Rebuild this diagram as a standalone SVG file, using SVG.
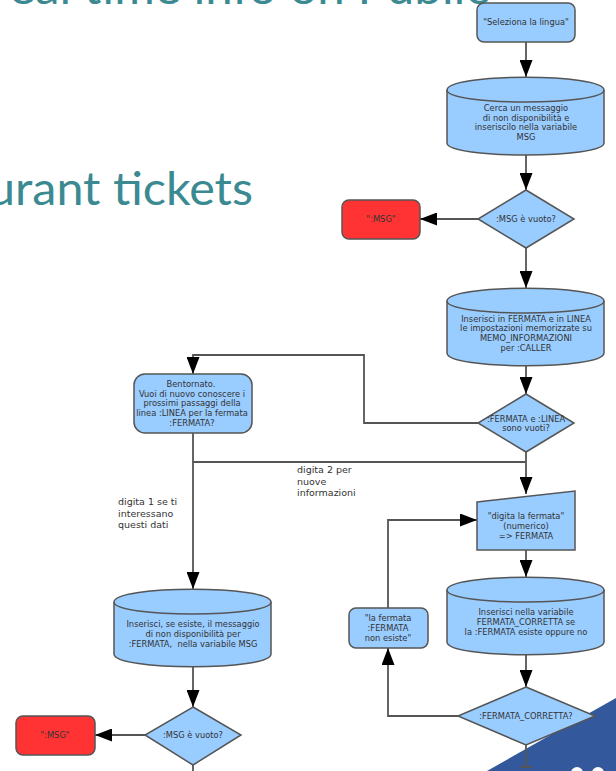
<svg xmlns="http://www.w3.org/2000/svg" width="616" height="771" viewBox="0 0 616 771">
<style>
.n{fill:#99ccff;stroke:#555;stroke-width:1.5}
.r{fill:#ff3333;stroke:#555;stroke-width:1.5}
.c{fill:none;stroke:#555;stroke-width:1.8}
.t{font-family:"DejaVu Sans",sans-serif;font-size:8.3px;fill:#333;text-anchor:middle}
.l{font-family:"DejaVu Sans",sans-serif;font-size:9.5px;fill:#333}
.h{font-family:"Lato",sans-serif;font-size:46px;fill:#3b8a92}
</style>
<defs>
<marker id="a" markerUnits="userSpaceOnUse" markerWidth="17" markerHeight="13" refX="17" refY="6.5" viewBox="0 0 17 13" orient="auto"><path d="M0 0L17 6.5L0 13Z" fill="#000"/></marker>
</defs>
<g id="bg">
<text class="h" x="9" y="4" textLength="480" lengthAdjust="spacingAndGlyphs">eal time info on Public</text>
<text class="h" x="-12" y="205" textLength="265" lengthAdjust="spacingAndGlyphs">urant tickets</text>
<path d="M616 698L487 771H616Z" fill="#33589b"/>
<ellipse cx="577" cy="773" rx="6" ry="6" fill="#fff"/>
<ellipse cx="598" cy="773" rx="6" ry="6" fill="#fff"/>
</g>
<g id="connectors" class="c">
<path d="M526 42V77" marker-end="url(#a)"/>
<path d="M526 155V190" marker-end="url(#a)"/>
<path d="M478 219H420" marker-end="url(#a)"/>
<path d="M526 248V288" marker-end="url(#a)"/>
<path d="M526 366V394" marker-end="url(#a)"/>
<path d="M478 423H364V355H193V374" marker-end="url(#a)"/>
<path d="M526 452V494" marker-end="url(#a)"/>
<path d="M193 462H526"/>
<path d="M193 433V589" marker-end="url(#a)"/>
<path d="M526 550V577" marker-end="url(#a)"/>
<path d="M526 655V687" marker-end="url(#a)"/>
<path d="M458 716H388V648" marker-end="url(#a)"/>
<path d="M388 608V520H477" marker-end="url(#a)"/>
<path d="M526 745V767M520 767H532"/>
<path d="M193 667V707" marker-end="url(#a)"/>
<path d="M145 735H95" marker-end="url(#a)"/>
<path d="M193 765V771"/>
</g>
<g id="lingua"><rect class="n" x="477" y="3" width="98" height="39" rx="7"/><text class="t" x="526" y="25">"Seleziona la lingua"</text></g>
<g id="cerca"><path class="n" d="M447 90C447 73 604 73 604 90V143C604 159 447 159 447 143Z"/><path class="n" fill="none" d="M447 90C447 106 604 106 604 90"/>
<text class="t" x="526" y="111">Cerca un messaggio</text><text class="t" x="526" y="121">di non disponibilità e</text><text class="t" x="526" y="130">inseriscilo nella variabile</text><text class="t" x="526" y="140">MSG</text></g>
<g id="msg1"><path class="n" d="M526 190L574 219L526 248L478 219Z"/><text class="t" x="526" y="222">:MSG è vuoto?</text></g>
<g id="red1"><rect class="r" x="342" y="200" width="78" height="39" rx="7"/><text class="t" x="381" y="222">":MSG"</text></g>
<g id="inserisci"><path class="n" d="M447 301C447 284 604 284 604 301V353C604 370 447 370 447 353Z"/><path class="n" fill="none" d="M447 301C447 317 604 317 604 301"/>
<text class="t" x="526" y="322">Inserisci in FERMATA e in LINEA</text><text class="t" x="526" y="331">le impostazioni memorizzate su</text><text class="t" x="526" y="341">MEMO_INFORMAZIONI</text><text class="t" x="526" y="351">per :CALLER</text></g>
<g id="vuoti"><path class="n" d="M526 394L574 423L526 452L478 423Z"/><text class="t" x="526" y="422">:FERMATA e :LINEA</text><text class="t" x="526" y="431">sono vuoti?</text></g>
<g id="bentornato"><rect class="n" x="134" y="374" width="118" height="59" rx="11"/>
<text class="t" x="191" y="387">Bentornato.</text><text class="t" x="192" y="397">Vuoi di nuovo conoscere i</text><text class="t" x="192" y="406">prossimi passaggi della</text><text class="t" x="192" y="416">linea :LINEA per la fermata</text><text class="t" x="192" y="426">:FERMATA?</text></g>
<g id="digita"><path class="n" d="M477 502L575 491V550H477Z"/><text class="t" x="526" y="519">"digita la fermata"</text><text class="t" x="526" y="529">(numerico)</text><text class="t" x="526" y="539">=&gt; FERMATA</text></g>
<g id="corretta"><path class="n" d="M447 590C447 573 604 573 604 590V642C604 659 447 659 447 642Z"/><path class="n" fill="none" d="M447 590C447 606 604 606 604 590"/>
<text class="t" x="526" y="615">Inserisci nella variabile</text><text class="t" x="526" y="625">FERMATA_CORRETTA se</text><text class="t" x="526" y="635">la :FERMATA esiste oppure no</text></g>
<g id="fc"><path class="n" d="M526 687L595 716L526 745L458 716Z"/><text class="t" x="526" y="719">:FERMATA_CORRETTA?</text></g>
<g id="nonesiste"><rect class="n" x="349" y="608" width="79" height="40" rx="7"/><text class="t" x="388" y="621">"la fermata</text><text class="t" x="388" y="631">:FERMATA</text><text class="t" x="388" y="641">non esiste"</text></g>
<g id="disp"><path class="n" d="M114 602C114 585 271 585 271 602V654C271 671 114 671 114 654Z"/><path class="n" fill="none" d="M114 602C114 618 271 618 271 602"/>
<text class="t" x="193" y="627">Inserisci, se esiste, il messaggio</text><text class="t" x="193" y="637">di non disponibilità per</text><text class="t" x="193" y="647" xml:space="preserve">:FERMATA,  nella variabile MSG</text></g>
<g id="msg2"><path class="n" d="M193 707L241 735L193 765L145 735Z"/><text class="t" x="193" y="738">:MSG è vuoto?</text></g>
<g id="red2"><rect class="r" x="16" y="716" width="79" height="39" rx="7"/><text class="t" x="55" y="738">":MSG"</text></g>
<g id="labels">
<text class="l" x="297" y="473">digita 2 per</text><text class="l" x="297" y="485">nuove</text><text class="l" x="297" y="496">informazioni</text>
<text class="l" x="118" y="505">digita 1 se ti</text><text class="l" x="118" y="517">interessano</text><text class="l" x="118" y="528">questi dati</text>
</g>
</svg>
